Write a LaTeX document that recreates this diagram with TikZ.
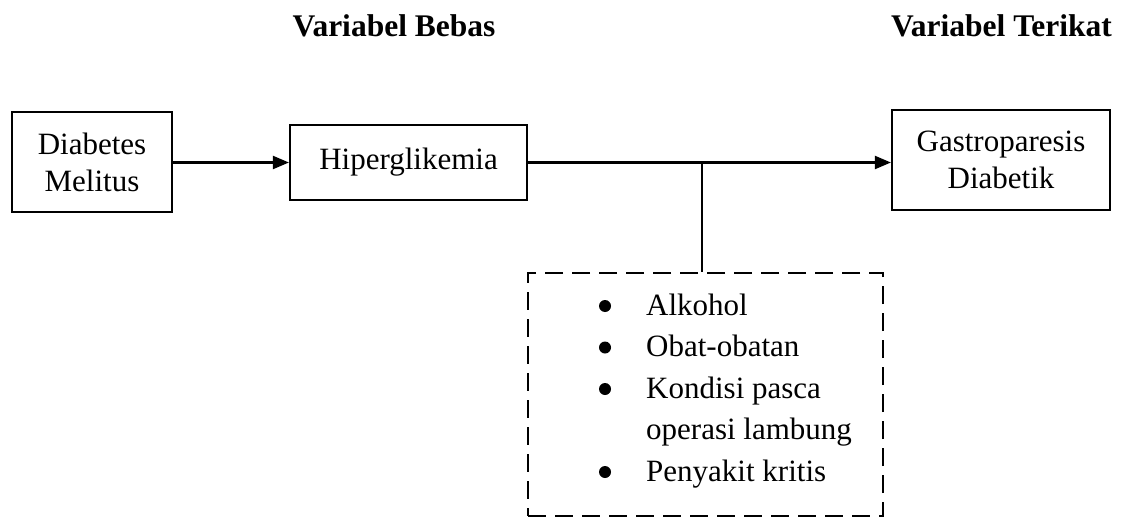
\documentclass[tikz,border=0pt]{standalone}
\usepackage{fontspec}
\setmainfont{Liberation Serif}
\usetikzlibrary{arrows.meta,calc}
\begin{document}
\begin{tikzpicture}[x=1pt,y=-1pt,
  every node/.style={font=\fontsize{31}{37}\selectfont},
  varbox/.style={draw,line width=2.2pt,inner sep=0pt,align=center},
  link/.style={line width=2.2pt},
  arrowlink/.style={link,-{Triangle[length=16pt,width=13pt]}},
  bulletdot/.style={fill=black},
  heading/.style={anchor=base,inner sep=0pt,font=\fontsize{31.5}{37}\selectfont\bfseries}]
\useasboundingbox (0,0) rectangle (1121,519);
\node[heading] (hbebas) at (394,37) {Variabel Bebas};
\node[heading] (hterikat) at (1001.5,37) {Variabel Terikat};
\node[varbox,minimum width=160pt,minimum height=100pt] (dm) at (92,162) {Diabetes\\Melitus};
\node[varbox,minimum width=237pt,minimum height=75pt] (hg) at (408.5,162.5) {Hiperglikemia};
\node[varbox,minimum width=218pt,minimum height=100pt] (gd) at (1001,160) {Gastroparesis\\Diabetik};
\node[draw,line width=2.6pt,dash pattern=on 18pt off 9pt,minimum width=355pt,minimum height=243pt,inner sep=0pt] (fac) at (705.5,394.5) {};
\node[anchor=base west,inner sep=0pt,align=left] (list) at (646,315) {\fontsize{31}{41.5}\selectfont
\begin{tabular}[t]{@{}l@{}}
Alkohol\\
Obat-obatan\\
Kondisi pasca\\
operasi lambung\\
Penyakit kritis
\end{tabular}};
\foreach \k in {0,1,2,4} \fill[bulletdot] ($(list.base west)+(-41,41.5*\k-9)$) circle (6pt);
\coordinate (jt) at (702,164);
\draw[arrowlink] (dm.east |- hg.west) -- (hg.west);
\draw[arrowlink] (hg.east) -- (hg.east -| gd.west);
\draw[link] (jt) -- (jt |- fac.north);
\end{tikzpicture}
\end{document}
